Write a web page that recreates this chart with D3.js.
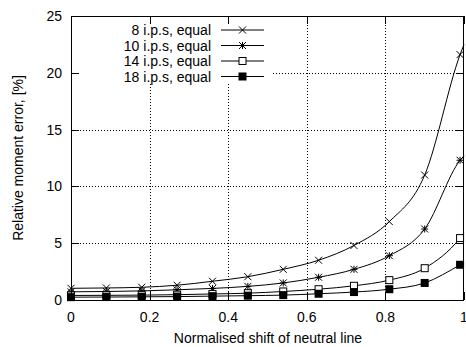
<!DOCTYPE html>
<html>
<head>
<meta charset="utf-8">
<script src="https://cdn.jsdelivr.net/npm/d3@7"></script>
<style>
  body { margin: 0; background: #fff; }
  svg { display: block; font-family: "Liberation Sans", Arial, sans-serif; }
</style>
</head>
<body>
<div id="chart"></div>
<script>
// sample positions along the neutral-line shift
const shift = [0, 0.09, 0.18, 0.27, 0.36, 0.45, 0.54, 0.63, 0.72, 0.81, 0.90, 0.99];

const ips8  = [1.03, 1.06, 1.12, 1.3, 1.65, 2.05, 2.7, 3.5, 4.8, 6.9, 11.0, 21.6];
const ips10 = [0.72, 0.75, 0.8, 0.9, 1.02, 1.2, 1.5, 2.0, 2.7, 3.9, 6.25, 12.3];
const ips14 = [0.4, 0.41, 0.43, 0.47, 0.53, 0.6, 0.75, 0.95, 1.25, 1.75, 2.8, 5.45];
const ips18 = [0.25, 0.26, 0.28, 0.3, 0.34, 0.38, 0.43, 0.55, 0.7, 0.95, 1.5, 3.1];

// where each curve leaves the plot at shift = 1 (no marker there)
const endShift = 1;
const endValues = [22.5, 12.7, 5.9, 3.3];

const seriesNames = ['8 i.p.s, equal', '10 i.p.s, equal', '14 i.p.s, equal', '18 i.p.s, equal'];
const seriesValues = [ips8, ips10, ips14, ips18];
const markers = ['cross', 'star', 'openSquare', 'filledSquare'];

const xTicks = [0, 0.2, 0.4, 0.6, 0.8, 1];
const yTicks = [0, 5, 10, 15, 20, 25];

const width = 466, height = 347;
const margin = { top: 16, right: 2, bottom: 47, left: 71 };

const svg = d3.select('#chart').append('svg')
  .attr('width', width)
  .attr('height', height);

const x = d3.scaleLinear().domain([0, 1]).range([margin.left, width - margin.right]);
const y = d3.scaleLinear().domain([0, 25]).range([height - margin.bottom, margin.top]);

// legend box area (gnuplot blanks the grid behind the key)
const key = { x0: 80, x1: 273, y1: 84 };

// grid
const grid = svg.append('g')
  .attr('stroke', '#000')
  .attr('stroke-width', 1)
  .attr('stroke-dasharray', '1,2');

xTicks.slice(1, -1).forEach(t => {
  const top = (x(t) > key.x0 && x(t) < key.x1) ? key.y1 : margin.top;
  grid.append('line')
    .attr('x1', Math.round(x(t)) + 0.5).attr('x2', Math.round(x(t)) + 0.5)
    .attr('y1', top).attr('y2', y(0));
});
yTicks.slice(1, -1).forEach(t => {
  const left = (y(t) < key.y1) ? key.x1 : margin.left;
  grid.append('line')
    .attr('x1', left).attr('x2', x(1))
    .attr('y1', Math.round(y(t)) + 0.5).attr('y2', Math.round(y(t)) + 0.5);
});

// tick marks (inside, all four sides)
const ticks = svg.append('g').attr('stroke', '#000').attr('stroke-width', 1);
xTicks.forEach(t => {
  const px = Math.round(x(t)) + 0.5;
  ticks.append('line').attr('x1', px).attr('x2', px).attr('y1', y(0)).attr('y2', y(0) - 8);
  ticks.append('line').attr('x1', px).attr('x2', px).attr('y1', y(25)).attr('y2', y(25) + 8);
});
yTicks.forEach(t => {
  const py = Math.round(y(t)) + 0.5;
  ticks.append('line').attr('x1', x(0)).attr('x2', x(0) + 8).attr('y1', py).attr('y2', py);
  ticks.append('line').attr('x1', x(1)).attr('x2', x(1) - 8).attr('y1', py).attr('y2', py);
});

// tick labels
svg.append('g').selectAll('text').data(xTicks).join('text')
  .attr('x', d => x(d))
  .attr('y', y(0) + 22)
  .attr('text-anchor', 'middle')
  .attr('font-size', 14)
  .text(d => d3.format('~g')(d));

svg.append('g').selectAll('text').data(yTicks).join('text')
  .attr('x', margin.left - 9)
  .attr('y', d => y(d) + 5)
  .attr('text-anchor', 'end')
  .attr('font-size', 14)
  .text(d => d);

// axis titles
svg.append('text')
  .attr('x', 268).attr('y', 343)
  .attr('text-anchor', 'middle')
  .attr('font-size', 14)
  .text('Normalised shift of neutral line');

svg.append('text')
  .attr('transform', 'translate(23,158) rotate(-90)')
  .attr('text-anchor', 'middle')
  .attr('font-size', 14)
  .text('Relative moment error, [%]');

// curves
const line = d3.line()
  .x(d => x(d[0]))
  .y(d => y(d[1]))
  .curve(d3.curveMonotoneX);

function drawMarker(g, type, cx, cy) {
  const s = 3.5;
  if (type === 'cross' || type === 'star') {
    g.append('path')
      .attr('d', `M${cx - s},${cy - s}L${cx + s},${cy + s}M${cx - s},${cy + s}L${cx + s},${cy - s}`)
      .attr('stroke', '#000').attr('stroke-width', 1).attr('fill', 'none');
    if (type === 'star') {
      g.append('path')
        .attr('d', `M${cx - s},${cy}L${cx + s},${cy}M${cx},${cy - s}L${cx},${cy + s}`)
        .attr('stroke', '#000').attr('stroke-width', 1).attr('fill', 'none');
    }
  } else if (type === 'openSquare') {
    g.append('rect')
      .attr('x', cx - s).attr('y', cy - s).attr('width', 2 * s).attr('height', 2 * s)
      .attr('fill', '#fff').attr('stroke', '#000').attr('stroke-width', 1);
  } else {
    g.append('rect')
      .attr('x', cx - s - 0.5).attr('y', cy - s - 0.5).attr('width', 2 * s + 1).attr('height', 2 * s + 1)
      .attr('fill', '#000');
  }
}

const plot = svg.append('g');
seriesValues.forEach((vals, i) => {
  const pts = shift.map((s, j) => [s, vals[j]]);
  plot.append('path')
    .datum(pts.concat([[endShift, endValues[i]]]))
    .attr('fill', 'none')
    .attr('stroke', '#000')
    .attr('stroke-width', 1)
    .attr('d', line);
  const mg = plot.append('g');
  pts.forEach(p => drawMarker(mg, markers[i], x(p[0]), y(p[1])));
});

// legend
const legend = svg.append('g');
seriesNames.forEach((name, i) => {
  const ly = 30 + i * 15.5;
  legend.append('text')
    .attr('x', 211).attr('y', ly + 5)
    .attr('text-anchor', 'end')
    .attr('font-size', 14)
    .text(name);
  legend.append('line')
    .attr('x1', 221).attr('x2', 264)
    .attr('y1', ly).attr('y2', ly)
    .attr('stroke', '#000').attr('stroke-width', 1);
  drawMarker(legend, markers[i], 242.5, ly);
});

// border
svg.append('rect')
  .attr('x', x(0) + 0.5).attr('y', y(25) + 0.5)
  .attr('width', x(1) - x(0) - 1).attr('height', y(0) - y(25))
  .attr('fill', 'none').attr('stroke', '#000').attr('stroke-width', 1);
</script>
</body>
</html>
